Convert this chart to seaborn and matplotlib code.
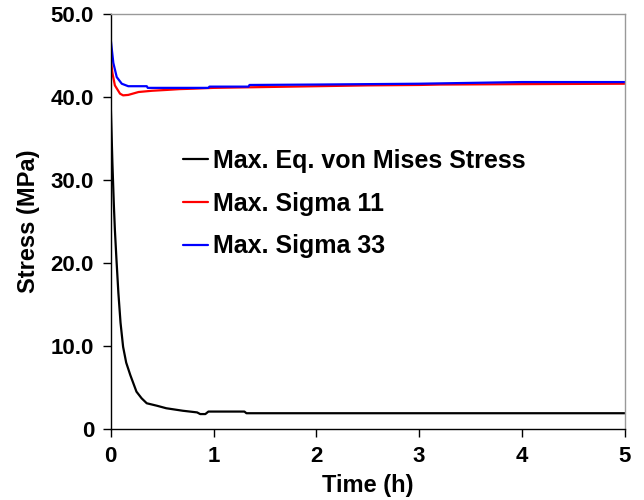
import matplotlib
matplotlib.use("Agg")
import matplotlib.pyplot as plt
import seaborn as sns
import pandas as pd

# ---- data ----
t_vm = [0, 0.008, 0.016, 0.03, 0.04, 0.055, 0.074, 0.095, 0.12, 0.15, 0.19, 0.25,
        0.3, 0.35, 0.45, 0.54, 0.7, 0.84, 0.87, 0.92, 0.95, 1.3, 1.32, 2, 3, 4, 5]
vm = [39.0, 35.5, 32.0, 27.0, 24.0, 20.5, 16.4, 12.8, 9.9, 8.0, 6.5, 4.5,
      3.7, 3.1, 2.8, 2.5, 2.2, 2.0, 1.8, 1.8, 2.1, 2.1, 1.9, 1.9, 1.9, 1.9, 1.9]

t_s11 = [0, 0.016, 0.04, 0.09, 0.12, 0.17, 0.27, 0.4, 0.54, 0.67, 0.8, 1.0, 1.5,
         2, 2.5, 3, 3.2, 4, 5]
s11 = [44.5, 42.9, 41.4, 40.4, 40.2, 40.25, 40.6, 40.75, 40.85, 40.95, 41.0, 41.1,
       41.2, 41.3, 41.4, 41.45, 41.5, 41.55, 41.6]

t_s33 = [0, 0.025, 0.058, 0.107, 0.17, 0.35, 0.36, 0.95, 0.96, 1.34, 1.35, 2, 3,
         3.75, 4, 5]
s33 = [46.9, 44.1, 42.4, 41.6, 41.3, 41.3, 41.1, 41.1, 41.25, 41.25, 41.45, 41.5,
       41.6, 41.75, 41.8, 41.8]

labels = ["Max. Eq. von Mises Stress", "Max. Sigma 11", "Max. Sigma 33"]
colors = ["#000000", "#ff0000", "#0000ff"]

x_ticks = [0, 1, 2, 3, 4, 5]
y_ticks = [0, 10, 20, 30, 40, 50]
y_ticklabels = ["0", "10.0", "20.0", "30.0", "40.0", "50.0"]

# ---- plot ----
sns.set_theme(style="ticks")
plt.rcParams["font.family"] = ["Liberation Sans", "DejaVu Sans"]
plt.rcParams["font.weight"] = "bold"
plt.rcParams["text.color"] = "black"
plt.rcParams["axes.labelcolor"] = "black"
plt.rcParams["xtick.color"] = "black"
plt.rcParams["ytick.color"] = "black"

fig = plt.figure(figsize=(6.44, 5.0), dpi=100)
ax = fig.add_axes([0.172, 0.142, 0.798, 0.830])

series = [(t_vm, vm), (t_s11, s11), (t_s33, s33)]
for (tx, vy), lab, col in zip(series, labels, colors):
    df = pd.DataFrame({"Time": tx, "Stress": vy})
    sns.lineplot(data=df, x="Time", y="Stress", ax=ax, color=col, label=lab,
                 linewidth=1.6, estimator=None, sort=False)

ax.set_xlim(0, 5)
ax.set_ylim(0, 50)
ax.set_xticks(x_ticks)
ax.set_xticklabels([str(v) for v in x_ticks])
ax.set_yticks(y_ticks)
ax.set_yticklabels(y_ticklabels)
ax.tick_params(axis="both", direction="out", length=6, width=1.0, colors="black",
               labelsize=16, pad=6)
for lab in ax.get_xticklabels() + ax.get_yticklabels():
    lab.set_fontweight("bold")
    lab.set_color("black")

ax.set_xlabel("Time (h)", fontsize=17, fontweight="bold", labelpad=5, color="black")
ax.set_ylabel("Stress (MPa)", fontsize=17, fontweight="bold", labelpad=8, color="black")

for s in ["left", "bottom"]:
    ax.spines[s].set_color("black")
    ax.spines[s].set_linewidth(1.0)
for s in ["top", "right"]:
    ax.spines[s].set_visible(True)
    ax.spines[s].set_color("#999999")
    ax.spines[s].set_linewidth(1.0)

leg = ax.legend(loc="upper left", bbox_to_anchor=(0.14, 0.675), frameon=False,
                fontsize=18, handlelength=1.0, handletextpad=0.2,
                labelspacing=0.75, borderpad=0, borderaxespad=0)
for txt in leg.get_texts():
    txt.set_fontweight("bold")
    txt.set_color("black")

fig.savefig("out.png", dpi=100)
